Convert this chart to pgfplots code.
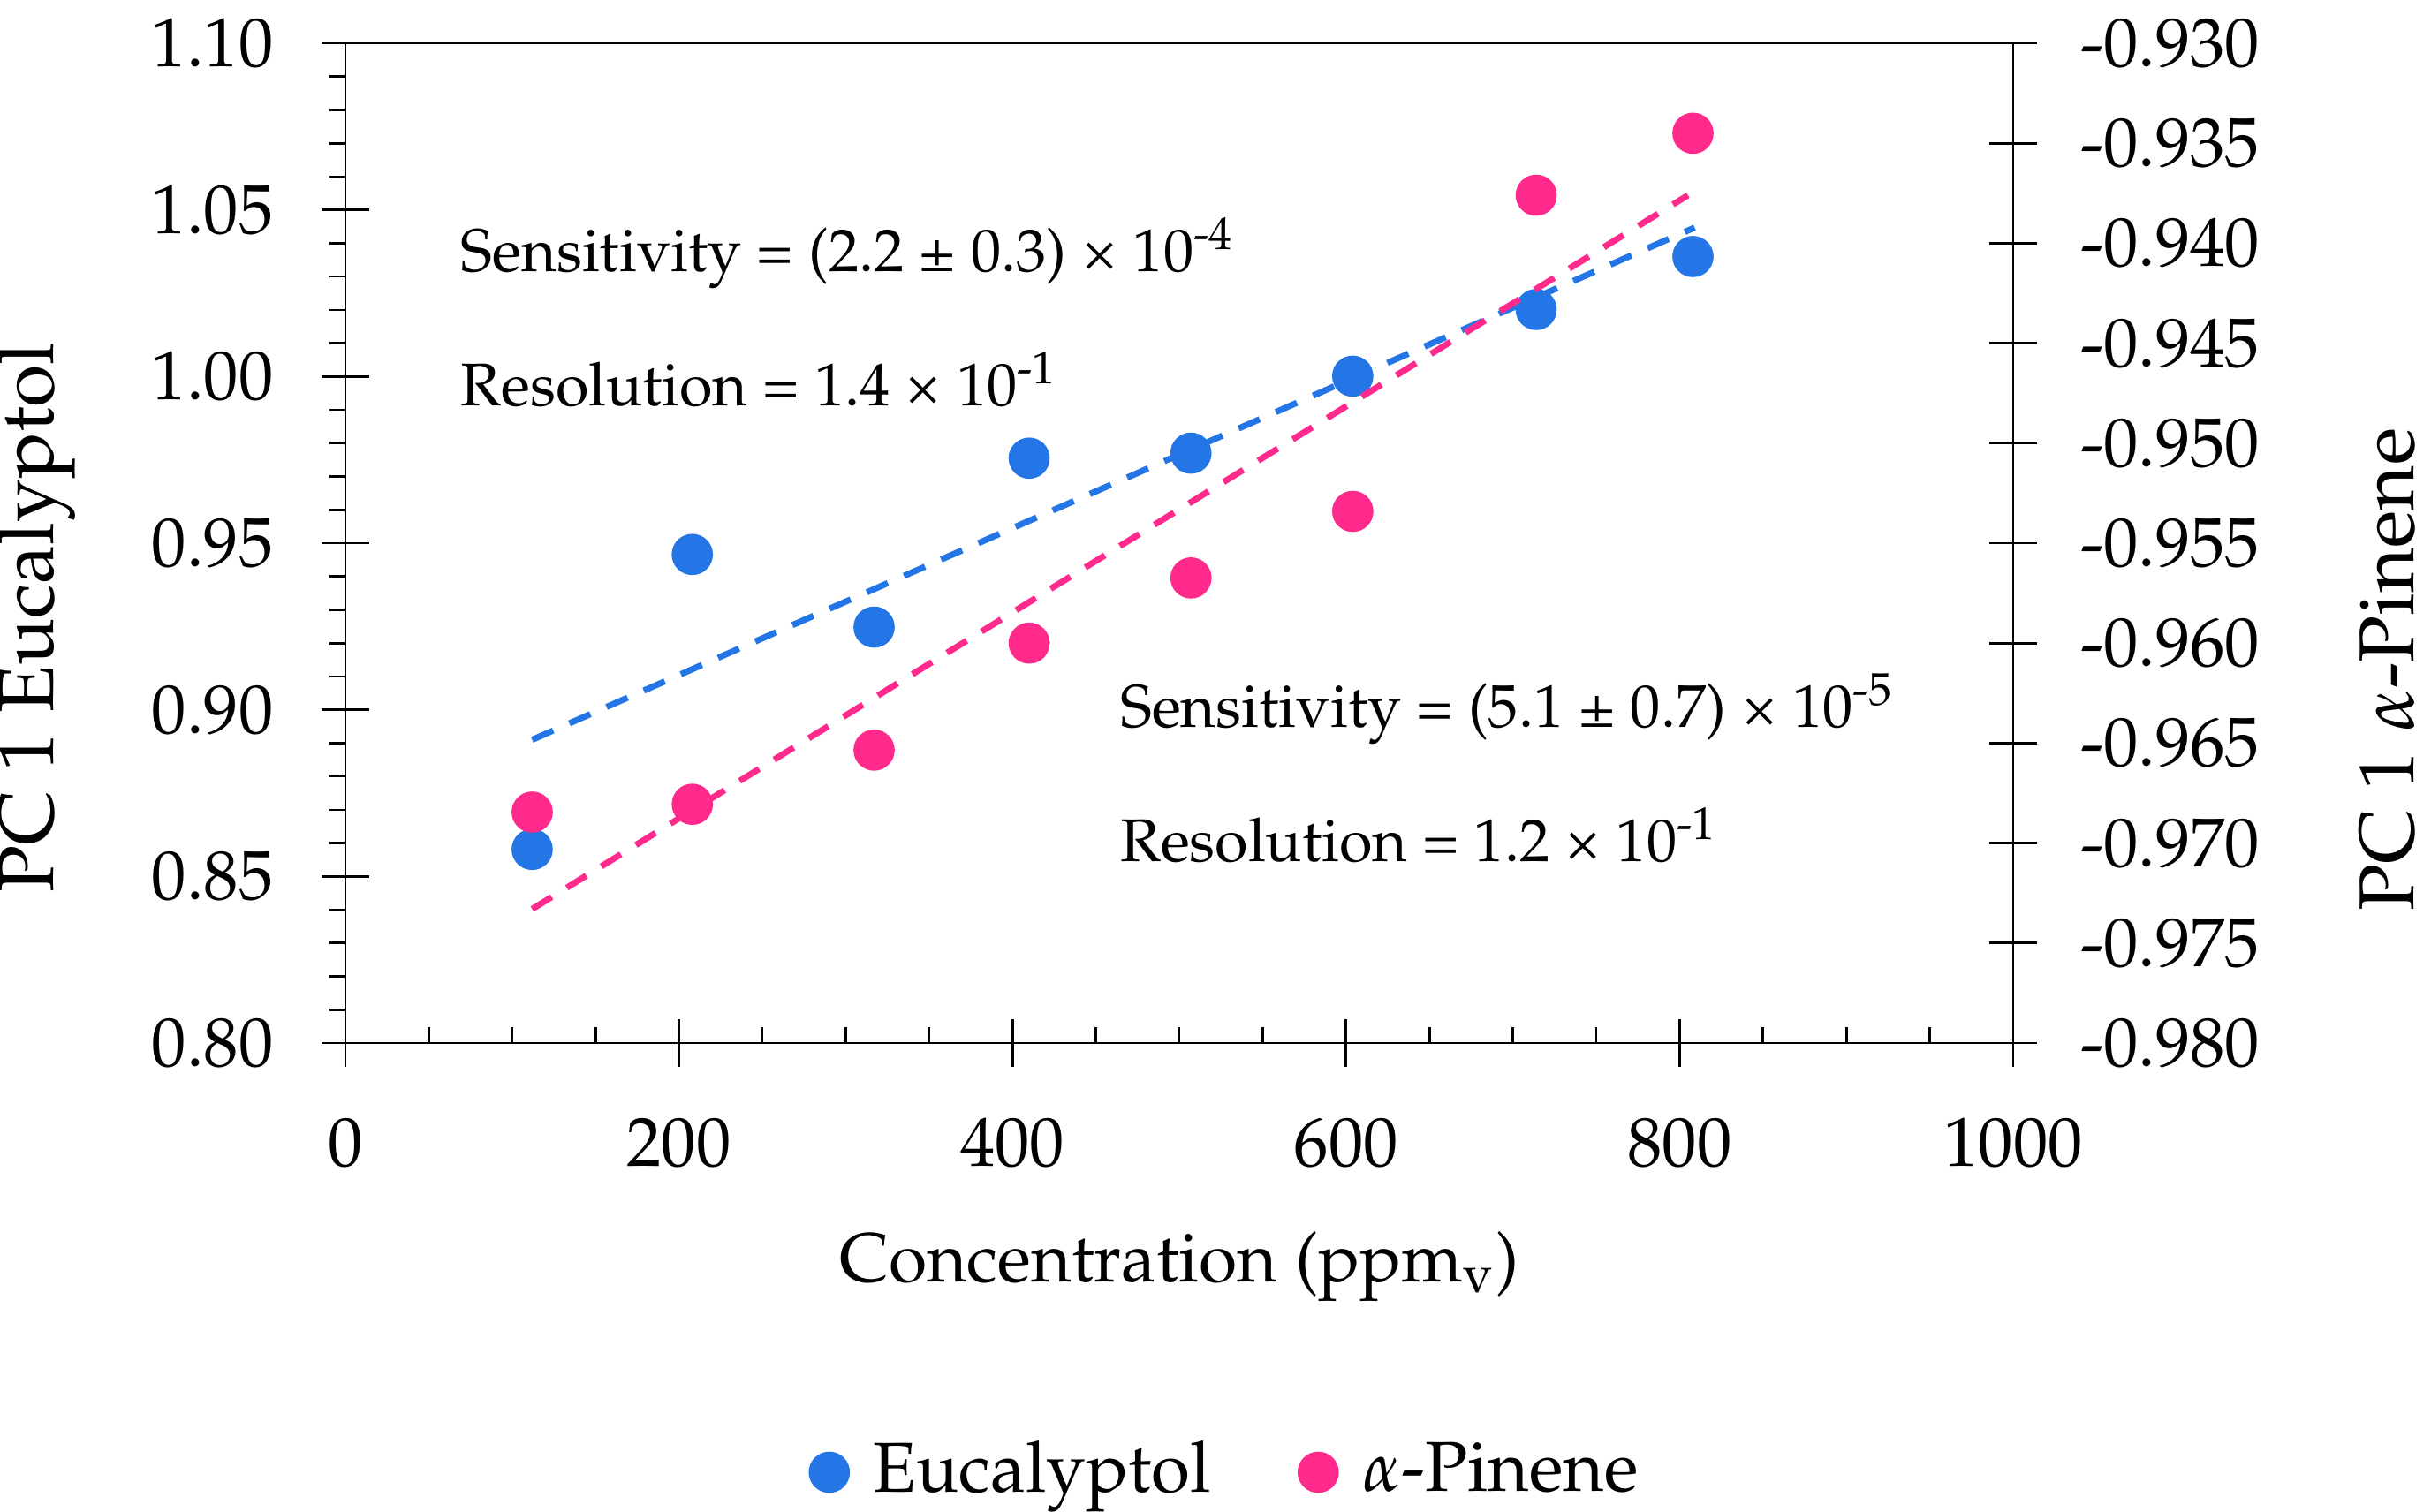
\documentclass[border=0pt]{standalone}
\usepackage[T1]{fontenc}
\usepackage{mathpazo}
\usepackage{pgfplots}
\pgfplotsset{compat=1.18}
\definecolor{euc}{RGB}{36,118,230}
\definecolor{pinec}{RGB}{255,42,140}
\tikzset{
  trend/.style={dash pattern=on 3.9pt off 3pt, line width=1.05pt},
  note/.style={anchor=west, inner sep=0pt, font=\fontsize{10.25}{12}\selectfont},
}

\begin{document}
\fontsize{12}{14}\selectfont
\begin{tikzpicture}
\path[use as bounding box] (-58.65pt,-79.65pt) rectangle (354.15pt,177.15pt);
\pgfplotsset{
  every axis/.append style={
    scale only axis, width=283.2pt, height=169.8pt,
    at={(0pt,0pt)}, anchor=south west,
    xmin=0, xmax=1000,
    font=\fontsize{11.8}{14}\selectfont,
    /pgf/number format/assume math mode=true,
    /pgf/number format/1000 sep={},
    tick align=center, major tick length=8pt, minor tick length=2.7pt,
    tick style={black, line width=0.4pt},
  },
}
% left axis: Eucalyptol
\begin{axis}[
  clip=false,
  ymin=0.80, ymax=1.10,
  xtick={0,200,400,600,800,1000}, minor x tick num=3,
  ytick={0.80,0.85,0.90,0.95,1.00,1.05,1.10}, minor y tick num=4,
  xtick pos=bottom, ytick pos=left,
  minor x tick style={yshift=1.35pt},
  minor y tick style={xshift=-1.35pt},
  yticklabel style={xshift=-4pt, /pgf/number format/.cd, fixed, fixed zerofill, precision=2},
  xticklabel style={yshift=-4.5pt},
  xlabel={Concentration (ppm\textsubscript{v})},
  xlabel style={at={(rel axis cs:0.5,0)}, anchor=center, yshift=-38pt},
]
\addplot[euc, trend, forget plot] coordinates {(112,0.8910) (809,1.0447)};
\addplot[only marks, mark=*, mark size=3.3pt, mark options={draw=euc, fill=euc}, forget plot]
coordinates {
  (112,0.8581) (208,0.9466) (317,0.9248) (410,0.9755)
  (507,0.9770) (604,1.0001) (714,1.0201) (808,1.0360)
};
\node[note] at (axis cs:68.5,1.037) {Sensitivity = (2.2 \textpm{} 0.3) \texttimes{} 10\textsuperscript{-4}};
\node[note] at (axis cs:68.5,0.999) {Resolution = 1.4 \texttimes{} 10\textsuperscript{-1}};
\node[note] at (axis cs:464,0.9003) {Sensitivity = (5.1 \textpm{} 0.7) \texttimes{} 10\textsuperscript{-5}};
\node[note] at (axis cs:464,0.8624) {Resolution = 1.2 \texttimes{} 10\textsuperscript{-1}};
\end{axis}
% right axis: alpha-Pinene
\begin{axis}[
  axis x line=none, axis y line*=right,
  ymin=-0.980, ymax=-0.930,
  ytick={-0.980,-0.975,-0.970,-0.965,-0.960,-0.955,-0.950,-0.945,-0.940,-0.935,-0.930},
  yticklabel style={xshift=3.2pt, /pgf/number format/.cd, fixed, fixed zerofill, precision=3},
  legend columns=2,
  legend style={draw=none, fill=none, at={(rel axis cs:0.5,0)}, anchor=center,
    yshift=-72.9pt, xshift=8.6pt, font=\fontsize{12}{14}\selectfont,
    /tikz/every even column/.append style={column sep=13pt},
    /tikz/every odd column/.append style={column sep=2.2pt}},
  legend cell align=left,
]
\addlegendimage{only marks, mark=*, mark size=3.3pt, mark options={draw=euc, fill=euc}}
\addlegendentry{Eucalyptol}
\addplot[pinec, trend, forget plot] coordinates {(112,-0.97330) (805,-0.93760)};
\addplot[only marks, mark=*, mark size=3.3pt, mark options={draw=pinec, fill=pinec}]
coordinates {
  (112,-0.96845) (208,-0.96806) (317,-0.96535) (410,-0.96000)
  (507,-0.95674) (604,-0.95341) (714,-0.93760) (808,-0.93450)
};
\addlegendentry{$\alpha$-Pinene}
\end{axis}
\node[rotate=90, font=\fontsize{13.2}{15}\selectfont] at (-52.5pt,72.3pt) {PC 1 Eucalyptol};
\node[rotate=90, font=\fontsize{13.2}{15}\selectfont] at (346.8pt,63.4pt) {PC 1 $\alpha$-Pinene};
\end{tikzpicture}
\end{document}
